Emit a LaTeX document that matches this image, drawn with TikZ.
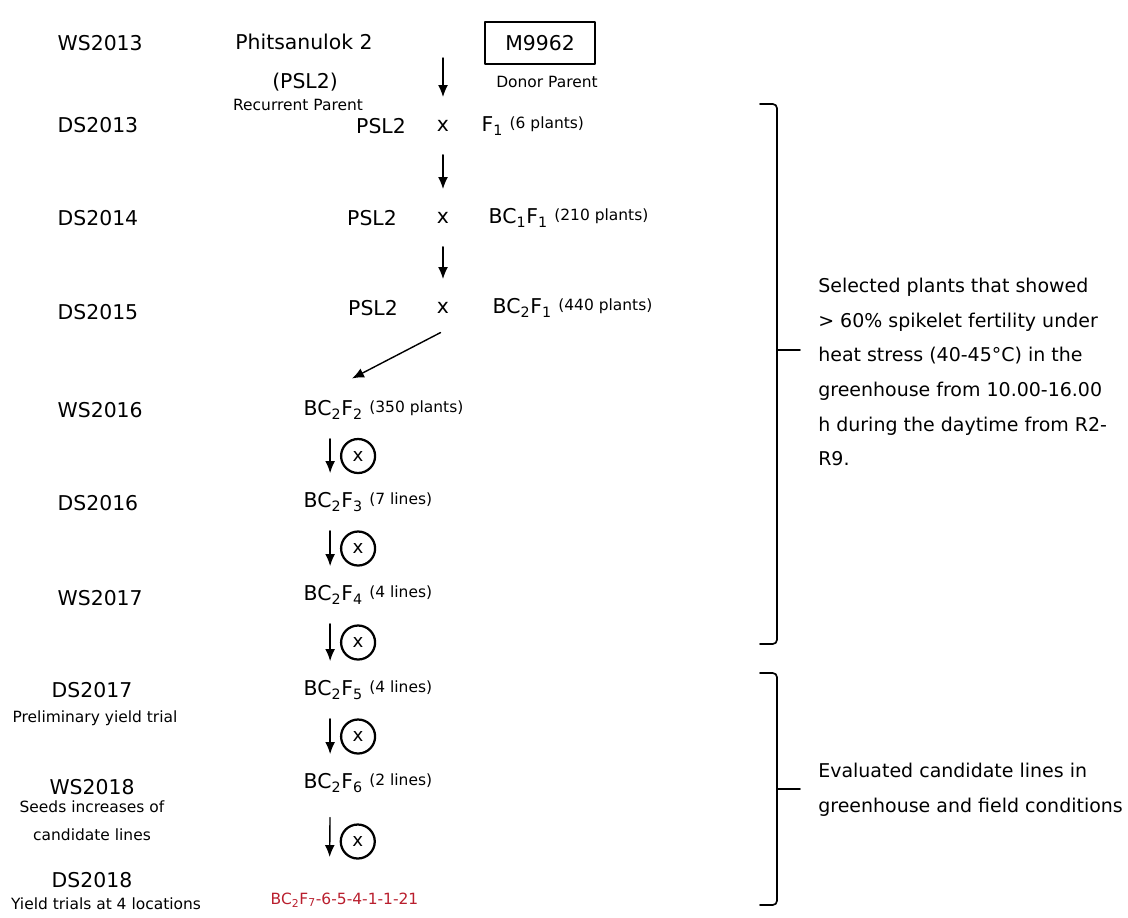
\documentclass[tikz,border=0pt]{standalone}
\usepackage{fontspec}
\setmainfont{DejaVu Sans}
\usetikzlibrary{arrows,arrows.meta,positioning}
\definecolor{linered}{RGB}{185,30,45}
\newcommand{\cnt}[1]{\raisebox{2.5pt}{\fontsize{11}{13}\selectfont #1}}

\begin{document}
\begin{tikzpicture}
      [x=0.025cm,y=-0.025cm,line cap=round,line join=round,
       big/.style={inner sep=1pt,font=\fontsize{14.5}{17}\selectfont},
       small/.style={inner sep=1pt,font=\fontsize{11}{13}\selectfont},
       gen/.style={big,anchor=west,minimum height=1.15cm},
       cross/.style={big,minimum height=1.15cm},
       arr/.style={-{Latex[length=8.5pt,width=7pt]},line width=1pt,shorten <=4pt,shorten >=4pt},
       selfx/.style={draw,circle,line width=1.6pt,minimum size=0.85cm,inner sep=0pt,
                     font=\fontsize{13}{15}\selectfont},
       brk/.style={line width=1.2pt,rounded corners=3pt}]

\useasboundingbox (0,0) rectangle (1128,917);

%season labels
\foreach \name/\yy in {WS2013/43,DS2013/125,DS2014/218,DS2015/312,WS2016/410,DS2016/503,WS2017/598}
   \node[big,anchor=west] (\name) at (56,\yy) {\name};
\node[big] (DS2017) at (92,690) {DS2017};
\node[small] (pyt) at (95,718) {Preliminary yield trial};
\node[big] (WS2018) at (92,787) {WS2018};
\node[small] (sinc) at (92,807) {Seeds increases of};
\node[small] (cand) at (92,835) {candidate lines};
\node[big] (DS2018) at (92,880) {DS2018};
\node[small] (ytl) at (106,904) {Yield trials at 4 locations};

%parents
\node[big] (phs) at (304,42) {Phitsanulok 2};
\node[big] (psl) at (305,82) {(PSL2)};
\node[small] (rec) at (298,105) {Recurrent Parent};
\node[big,draw,line width=1.2pt,minimum width=2.75cm,minimum height=1.05cm] (don) at (540,43) {M9962};
\node[small] (dpr) at (547,82) {Donor Parent};
\coordinate (top) at (443,58);

%crosses
\node[big] (p1) at (381,126) {PSL2};
\node[cross] (x1) at (443,126) {x};
\node[gen] (f1) at (480,126) {F\textsubscript{1} \cnt{(6 plants)}};
\node[big] (p2) at (372,218) {PSL2};
\node[cross] (x2) at (443,218) {x};
\node[gen] (f2) at (487,218) {BC\textsubscript{1}F\textsubscript{1} \cnt{(210 plants)}};
\node[big] (p3) at (373,308) {PSL2};
\node[cross] (x3) at (443,308) {x};
\node[gen] (f3) at (491,308) {BC\textsubscript{2}F\textsubscript{1} \cnt{(440 plants)}};

\draw[arr,shorten <=0pt] (top) -- (x1);
\draw[arr] (x1) -- (x2);
\draw[arr] (x2) -- (x3);

%selfing
\node[gen] (f4) at (302,410) {BC\textsubscript{2}F\textsubscript{2} \cnt{(350 plants)}};
\node[gen] (f5) at (302,502) {BC\textsubscript{2}F\textsubscript{3} \cnt{(7 lines)}};
\node[gen] (f6) at (302,595) {BC\textsubscript{2}F\textsubscript{4} \cnt{(4 lines)}};
\node[gen] (f7) at (302,690) {BC\textsubscript{2}F\textsubscript{5} \cnt{(4 lines)}};
\node[gen] (f8) at (302,783) {BC\textsubscript{2}F\textsubscript{6} \cnt{(2 lines)}};
\node[small,anchor=west,minimum height=1.15cm,text=linered] (f9) at (269,900)
     {BC\textsubscript{2}F\textsubscript{7}-6-5-4-1-1-21};

\draw[arr,shorten <=2pt] (x3.south) -- ([xshift=32pt,yshift=4pt]f4.north west);
\foreach \a/\b in {f4/f5,f5/f6,f6/f7,f7/f8}
   \draw[arr] ([xshift=20pt]\a.south west) -- ([xshift=20pt]\b.north west)
        node[midway,right=7pt,selfx] {x};
\draw[arr,shorten <=8pt,shorten >=14pt] ([xshift=20pt]f8.south west) -- ([xshift=43pt]f9.north west)
        node[midway,right=7pt,selfx] {x};

%brackets
\node[anchor=north west,align=left,inner sep=0pt,font=\fontsize{13.5}{24.6}\selectfont] (sel) at (818,278)
   {Selected plants that showed\\ > 60\% spikelet fertility under\\ heat stress (40-45°C) in the\\
    greenhouse from 10.00-16.00\\ h during the daytime from R2-\\ R9.};
\draw[brk] (760,104) -- (777,104) -- (777,644) -- (760,644);
\draw[line width=1.2pt] (777,350) -- (800,350);

\node[anchor=west,align=left,inner sep=0pt,font=\fontsize{13.5}{24.6}\selectfont] (evl) at (818,790)
   {Evaluated candidate lines in\\ greenhouse and field conditions};
\draw[brk] (760,673) -- (777,673) -- (777,905) -- (760,905);
\draw[line width=1.2pt] (777,789) -- (800,789);

\end{tikzpicture}
\end{document}
